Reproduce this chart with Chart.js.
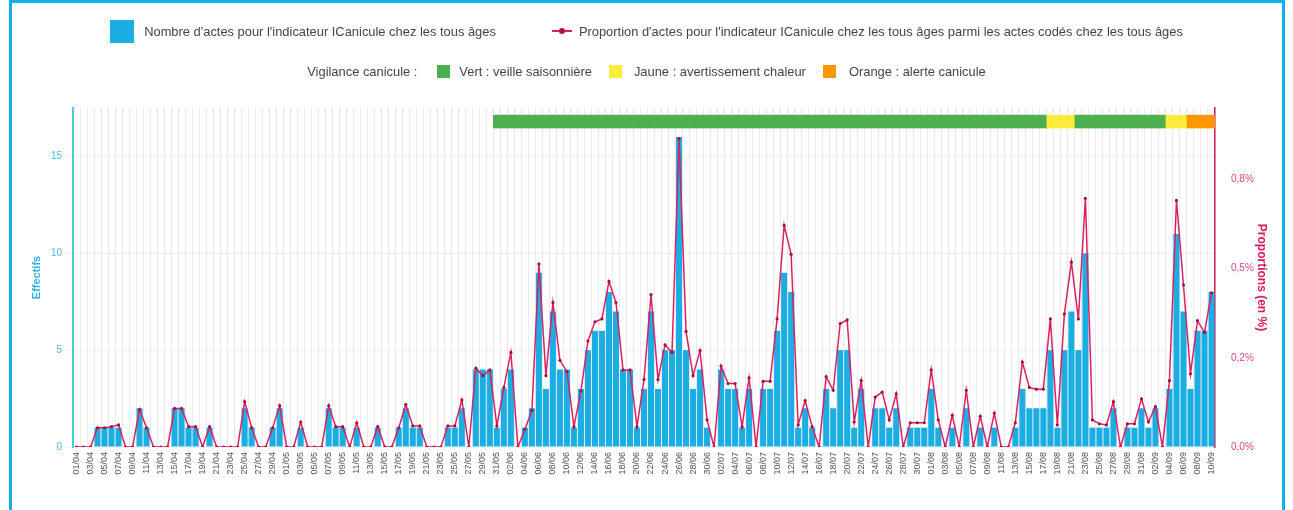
<!DOCTYPE html>
<html>
<head>
<meta charset="utf-8">
<script src="https://cdn.jsdelivr.net/npm/chart.js@4.4.1/dist/chart.umd.min.js"></script>
<style>
  body { margin: 0; background: #fff; font-family: "Liberation Sans", Arial, sans-serif; }
  #wrap { position: relative; width: 1293px; height: 510px; overflow: hidden; }
  #frame { position: absolute; left: 9px; top: 0; width: 1270px; height: 520px; border: 3px solid #0fb0e6; }
  canvas { position: absolute; left: 0; top: 0; }
  .row { position: absolute; left: 0; width: 1293px; display: flex; justify-content: center; align-items: center; font-size: 12.9px; color: #444; white-space: nowrap; }
  .sq { display: inline-block; }
  .lineMark { position: relative; display: inline-block; width: 20px; height: 10px; }
  .lineMark::before { content: ""; position: absolute; left: 0; right: 0; top: 4px; height: 2px; background: #dc1f64; }
  .lineMark::after { content: ""; position: absolute; left: 7px; top: 2px; width: 6px; height: 6px; border-radius: 50%; background: #b0144c; }
</style>
</head>
<body>
<div id="wrap">
  <canvas id="chart" width="1293" height="510"></canvas>
  <div id="frame"></div>
  <div class="row" style="top:19px;height:24px;">
    <span class="sq" style="width:24px;height:23px;background:#1aaee3;margin-right:10px;"></span>
    <span>Nombre d'actes pour l'indicateur ICanicule chez les tous âges</span>
    <span class="lineMark" style="margin-left:56px;margin-right:7px;"></span>
    <span>Proportion d'actes pour l'indicateur ICanicule chez les tous âges parmi les actes codés chez les tous âges</span>
  </div>
  <div class="row" style="top:64px;height:14px;">
    <span>Vigilance canicule :</span>
    <span class="sq" style="width:13px;height:13px;background:#4caf50;margin-left:20px;margin-right:9px;"></span>
    <span>Vert : veille saisonnière</span>
    <span class="sq" style="width:13px;height:13px;background:#ffeb3b;margin-left:17px;margin-right:12px;"></span>
    <span>Jaune : avertissement chaleur</span>
    <span class="sq" style="width:13px;height:13px;background:#ff9800;margin-left:17px;margin-right:13px;"></span>
    <span>Orange : alerte canicule</span>
  </div>
</div>
<script>
// jours du 01/04 au 10/09
var months = [["04", 30], ["05", 31], ["06", 30], ["07", 31], ["08", 31], ["09", 10]];
var days = [];
months.forEach(function (m) {
  for (var d = 1; d <= m[1]; d++) days.push((d < 10 ? "0" + d : "" + d) + "/" + m[0]);
});

// nombre d'actes (effectifs)
var counts = [
  0, 0, 0, 1, 1, 1, 1, 0, 0, 2,
  1, 0, 0, 0, 2, 2, 1, 1, 0, 1,
  0, 0, 0, 0, 2, 1, 0, 0, 1, 2,
  0, 0, 1, 0, 0, 0, 2, 1, 1, 0,
  1, 0, 0, 1, 0, 0, 1, 2, 1, 1,
  0, 0, 0, 1, 1, 2, 0, 4, 4, 4,
  1, 3, 4, 0, 1, 2, 9, 3, 7, 4,
  4, 1, 3, 5, 6, 6, 8, 7, 4, 4,
  1, 3, 7, 3, 5, 5, 16, 5, 3, 4,
  1, 0, 4, 3, 3, 1, 3, 0, 3, 3,
  6, 9, 8, 1, 2, 1, 0, 3, 2, 5,
  5, 1, 3, 0, 2, 2, 1, 2, 0, 1,
  1, 1, 3, 1, 0, 1, 0, 2, 0, 1,
  0, 1, 0, 0, 1, 3, 2, 2, 2, 5,
  1, 5, 7, 5, 10, 1, 1, 1, 2, 0,
  1, 1, 2, 1, 2, 0, 3, 11, 7, 3,
  6, 6, 8
];

// proportion d'actes (en %)
var proportions = [
  0, 0, 0, 0.054, 0.054, 0.057, 0.062, 0, 0, 0.105,
  0.054, 0, 0, 0, 0.108, 0.108, 0.057, 0.057, 0, 0.057,
  0, 0, 0, 0, 0.127, 0.054, 0, 0, 0.054, 0.116,
  0, 0, 0.07, 0, 0, 0, 0.116, 0.057, 0.057, 0,
  0.068, 0, 0, 0.057, 0, 0, 0.054, 0.119, 0.059, 0.059,
  0, 0, 0, 0.059, 0.059, 0.132, 0, 0.221, 0.2, 0.216,
  0.059, 0.167, 0.265, 0, 0.049, 0.103, 0.513, 0.2, 0.405, 0.243,
  0.211, 0.057, 0.157, 0.297, 0.351, 0.359, 0.464, 0.405, 0.216, 0.216,
  0.057, 0.189, 0.427, 0.189, 0.286, 0.265, 0.864, 0.324, 0.2, 0.27,
  0.076, 0, 0.227, 0.178, 0.178, 0.057, 0.194, 0, 0.184, 0.184,
  0.359, 0.621, 0.54, 0.062, 0.13, 0.057, 0, 0.197, 0.159, 0.346,
  0.356, 0.07, 0.186, 0, 0.14, 0.154, 0.076, 0.149, 0, 0.068,
  0.068, 0.068, 0.216, 0.076, 0, 0.089, 0, 0.159, 0, 0.086,
  0, 0.095, 0, 0, 0.068, 0.238, 0.167, 0.162, 0.162, 0.359,
  0.062, 0.373, 0.518, 0.359, 0.697, 0.076, 0.065, 0.062, 0.127, 0,
  0.065, 0.065, 0.135, 0.07, 0.113, 0, 0.186, 0.691, 0.454, 0.205,
  0.354, 0.321, 0.432
];

// vigilance canicule, par période
var vigilancePeriods = [
  { from: "31/05", to: "17/08", level: "vert" },
  { from: "18/08", to: "21/08", level: "jaune" },
  { from: "22/08", to: "03/09", level: "vert" },
  { from: "04/09", to: "06/09", level: "jaune" },
  { from: "07/09", to: "10/09", level: "orange" }
];
var vigilanceColors = { vert: "#4caf50", jaune: "#ffeb3b", orange: "#ff9800" };

var countTicks = [0, 5, 10, 15];
var propTicks = [0, 0.25, 0.5, 0.75];
var propTickLabels = ["0,0%", "0,2%", "0,5%", "0,8%"];

var bandData = days.map(function () { return null; });
var bandColors = days.map(function () { return "rgba(0,0,0,0)"; });
vigilancePeriods.forEach(function (p) {
  var a = days.indexOf(p.from), b = days.indexOf(p.to);
  for (var i = a; i <= b; i++) {
    bandData[i] = [0.941, 0.979];
    bandColors[i] = vigilanceColors[p.level];
  }
});

var ctx = document.getElementById("chart").getContext("2d");
var font = "'Liberation Sans', Arial, sans-serif";

var chart = new Chart(ctx, {
  data: {
    labels: days,
    datasets: [
      {
        type: "line",
        label: "Proportion d'actes",
        data: proportions,
        yAxisID: "yProp",
        borderColor: "#dc1f64",
        borderWidth: 1.5,
        pointRadius: 1.6,
        pointBackgroundColor: "#a3123f",
        pointBorderWidth: 0,
        tension: 0,
        order: 0
      },
      {
        type: "bar",
        label: "Nombre d'actes",
        data: counts,
        yAxisID: "yCount",
        backgroundColor: "#1aaee3",
        barPercentage: 0.86,
        categoryPercentage: 1,
        grouped: false,
        order: 1
      },
      {
        type: "bar",
        label: "Vigilance",
        data: bandData,
        yAxisID: "yBand",
        backgroundColor: bandColors,
        barPercentage: 1,
        categoryPercentage: 1,
        grouped: false,
        order: 2
      }
    ]
  },
  options: {
    responsive: false,
    animation: false,
    layout: { padding: { top: 108, left: 0, right: 0, bottom: 0 } },
    plugins: { legend: { display: false }, tooltip: { enabled: false } },
    scales: {
      x: {
        offset: true,
        grid: { color: "rgba(0,0,0,0.08)", offset: true, drawTicks: false },
        border: { display: false },
        ticks: {
          autoSkip: false,
          minRotation: 90,
          maxRotation: 90,
          padding: 5,
          color: "#555",
          font: { family: font, size: 9 },
          callback: function (v, i) { return i % 2 === 0 ? days[i] : ""; }
        },
        afterFit: function (s) { s.height = 63; }
      },
      yCount: {
        position: "left",
        min: 0,
        max: 17.5,
        grid: { color: "rgba(0,0,0,0.05)" },
        border: { color: "#3fcfe0", width: 2 },
        afterBuildTicks: function (s) { s.ticks = countTicks.map(function (v) { return { value: v }; }); },
        ticks: { color: "#4dbcd8", font: { family: font, size: 10 } },
        title: {
          display: true,
          text: "Effectifs",
          color: "#2bb5e3",
          font: { family: font, size: 11, weight: "bold" },
          padding: { top: 30, bottom: 0 }
        },
        afterFit: function (s) { s.width = 73; }
      },
      yProp: {
        position: "right",
        min: 0,
        max: 0.95,
        grid: { display: false },
        border: { color: "#d81b60", width: 1.5 },
        afterBuildTicks: function (s) { s.ticks = propTicks.map(function (v) { return { value: v }; }); },
        ticks: {
          color: "#e0457e",
          padding: 8,
          font: { family: font, size: 10 },
          callback: function (v, i) { return propTickLabels[i]; }
        },
        title: {
          display: true,
          text: "Proportions (en %)",
          color: "#d81b60",
          font: { family: font, size: 12, weight: "bold" },
          padding: { top: 24, bottom: 0 }
        },
        afterFit: function (s) { s.width = 78; }
      },
      yBand: { display: false, min: 0, max: 1 }
    }
  }
});
</script>
</body>
</html>
